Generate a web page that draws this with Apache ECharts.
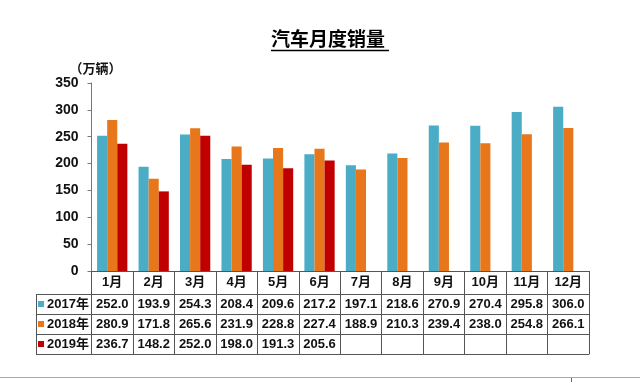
<!DOCTYPE html>
<html>
<head>
<meta charset="utf-8">
<script src="https://cdn.jsdelivr.net/npm/echarts@6/dist/echarts.min.js"></script>
<style>html,body{margin:0;padding:0;background:#fff;}#c{width:640px;height:382px;}</style>
</head>
<body>
<div id="c"></div>
<script>
const months = ['1月','2月','3月','4月','5月','6月','7月','8月','9月','10月','11月','12月'];
const seriesNames = ['2017年','2018年','2019年'];
const sales2017 = [252.0,193.9,254.3,208.4,209.6,217.2,197.1,218.6,270.9,270.4,295.8,306.0];
const sales2018 = [280.9,171.8,265.6,231.9,228.8,227.4,188.9,210.3,239.4,238.0,254.8,266.1];
const sales2019 = [236.7,148.2,252.0,198.0,191.3,205.6,null,null,null,null,null,null];
const yTicks = [0,50,100,150,200,250,300,350];

const colors = ['#4BACC6','#E8761A','#C00000'];
const FONT = '"Liberation Sans", "Noto Sans CJK SC", sans-serif';
const lineCol = '#555';

const chart = echarts.init(document.getElementById('c'));
const rows = [sales2017, sales2018, sales2019];

const tableAxes = rows.map((arr, i) => ({
  type: 'category', data: months, position: 'bottom', offset: 23 + 20 * i,
  axisLine: {show: true, lineStyle: {color: lineCol, width: 1}},
  axisTick: {show: false},
  axisLabel: {interval: 0, margin: 4, fontFamily: FONT, fontWeight: 'bold', fontSize: 13, color: '#111',
    formatter: (v, idx) => arr[idx] == null ? '' : arr[idx].toFixed(1)}
}));
tableAxes.push({
  type: 'category', data: months, position: 'bottom', offset: 83,
  axisLine: {show: true, lineStyle: {color: lineCol, width: 1}},
  axisTick: {show: false}, axisLabel: {show: false}
});

const option = {
  animation: false,
  backgroundColor: '#fff',
  title: {
    text: '汽车月度销量', left: 271, top: 31, padding: 0,
    textStyle: {fontFamily: FONT, fontWeight: 'bold', fontSize: 19, color: '#000'}
  },
  legend: {
    data: seriesNames, orient: 'vertical', left: 38, top: 294, padding: 0,
    itemWidth: 6, itemHeight: 6, itemGap: 0, icon: 'rect',
    textStyle: {fontFamily: FONT, fontWeight: 'bold', fontSize: 13, color: '#111', lineHeight: 20, padding: [0,0,0,-2]}
  },
  grid: {left: 91.5, right: 51, top: 83, bottom: 111, containLabel: false},
  xAxis: [{
    type: 'category', data: months, position: 'bottom',
    axisLine: {show: true, lineStyle: {color: lineCol, width: 1}},
    axisTick: {show: true, length: 83, interval: 0, lineStyle: {color: lineCol, width: 1}},
    axisLabel: {interval: 0, margin: 5, fontFamily: FONT, fontWeight: 'bold', fontSize: 13, color: '#111'}
  }].concat(tableAxes),
  yAxis: {
    type: 'value', min: yTicks[0], max: yTicks[yTicks.length-1], interval: 50,
    name: '（万辆）', nameLocation: 'end', nameGap: 5,
    nameTextStyle: {fontFamily: FONT, fontWeight: 'bold', fontSize: 13, color: '#111', padding: [0,0,0,8]},
    axisLine: {show: true, lineStyle: {color: '#777', width: 1}},
    axisTick: {show: true, length: 4, lineStyle: {color: '#777'}},
    splitLine: {show: false},
    axisLabel: {margin: 13, fontFamily: FONT, fontWeight: 'bold', fontSize: 14, color: '#111'}
  },
  series: rows.map((arr, i) => ({
    name: seriesNames[i], type: 'bar', data: arr, xAxisIndex: 0,
    barGap: '0%', barCategoryGap: '27%',
    itemStyle: {color: colors[i]}
  })),
  graphic: [
    {type: 'line', shape: {x1: 271, y1: 50.5, x2: 389, y2: 50.5}, style: {stroke: '#000', lineWidth: 1.5}},
    {type: 'line', shape: {x1: 36.5, y1: 294, x2: 36.5, y2: 354}, style: {stroke: lineCol, lineWidth: 1}},
    {type: 'line', shape: {x1: 36, y1: 294.5, x2: 92, y2: 294.5}, style: {stroke: lineCol, lineWidth: 1}},
    {type: 'line', shape: {x1: 36, y1: 314.5, x2: 92, y2: 314.5}, style: {stroke: lineCol, lineWidth: 1}},
    {type: 'line', shape: {x1: 36, y1: 334.5, x2: 92, y2: 334.5}, style: {stroke: lineCol, lineWidth: 1}},
    {type: 'line', shape: {x1: 36, y1: 354.5, x2: 92, y2: 354.5}, style: {stroke: lineCol, lineWidth: 1}},
    {type: 'line', shape: {x1: 0, y1: 377.5, x2: 640, y2: 377.5}, style: {stroke: '#aaa', lineWidth: 1}},
    {type: 'line', shape: {x1: 571.5, y1: 378, x2: 571.5, y2: 382}, style: {stroke: '#666', lineWidth: 1}}
  ]
};
chart.setOption(option);
</script>
</body>
</html>
